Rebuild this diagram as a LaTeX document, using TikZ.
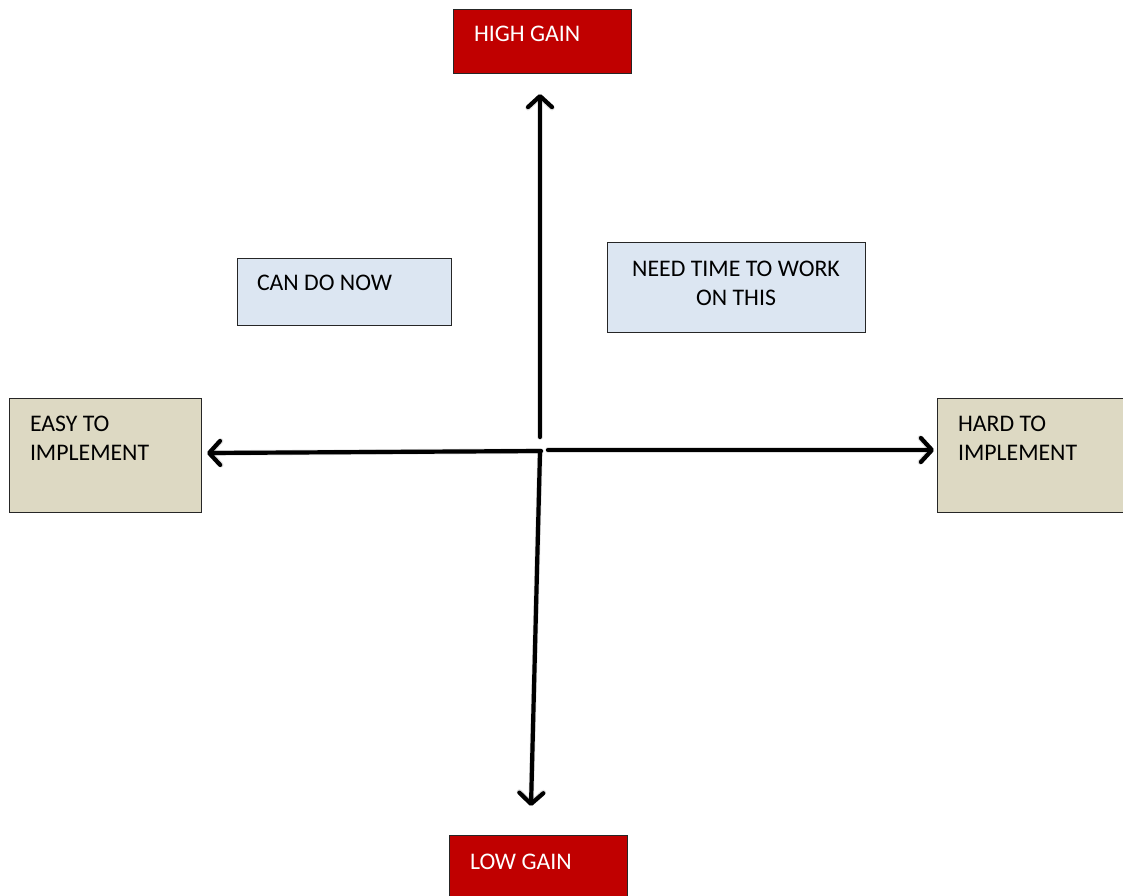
\documentclass[tikz,border=0pt]{standalone}
\usepackage{fontspec}
\setmainfont{Carlito}
\usetikzlibrary{arrows.meta}
\definecolor{boxred}{HTML}{C00000}
\definecolor{boxblue}{HTML}{DCE6F2}
\definecolor{boxtan}{HTML}{DDD9C3}
\newcommand\lbox[5]{\parbox[c][#2][t]{#1}{\vspace*{#4}\raggedright\leftskip=#3\relax #5\par}}
\newcommand\cbox[4]{\parbox[c][#2][t]{#1}{\vspace*{#3}\centering #4\par}}
\begin{document}
\begin{tikzpicture}[x=1pt,y=-1pt,
  every node/.style={font=\fontsize{23.8}{29}\selectfont},
  quad/.style={draw=black!85, line width=0.9pt, inner sep=0pt},
  redbox/.style={quad, fill=boxred, text=white},
  bluebox/.style={quad, fill=boxblue, text=black},
  tanbox/.style={quad, fill=boxtan, text=black},
  axis/.style={line width=4.2pt, line cap=round, line join=round,
    -{Straight Barb[length=11pt,width=24pt,line cap=round,line join=round]}},
  axisshadow/.style={axis, draw=black, opacity=0.12, line width=5.5pt}
]
\useasboundingbox (0,0) rectangle (1123,895);
\fill[white] (0,0) rectangle (1123,895);

\node[redbox]  (high) at (542,41)    {\lbox{178pt}{64pt}{21pt}{17pt}{HIGH GAIN}};
\node[redbox]  (low)  at (538,867)   {\lbox{178pt}{64pt}{21pt}{19pt}{LOW GAIN}};
\node[bluebox] (cando) at (344,291.5) {\lbox{214pt}{67pt}{20pt}{17pt}{CAN DO NOW}};
\node[bluebox] (need) at (736,287)   {\cbox{258pt}{90pt}{19pt}{NEED TIME TO WORK\\ON THIS}};
\node[tanbox]  (easy) at (105,455)   {\lbox{192pt}{114pt}{21pt}{18pt}{EASY TO\\IMPLEMENT}};
\node[tanbox]  (hard) at (1033.5,455) {\lbox{193pt}{114pt}{21pt}{18pt}{HARD TO\\IMPLEMENT}};

\coordinate (upS) at (540,437);
\coordinate (upE) at (540,94);
\coordinate (lfS) at (541,451);
\coordinate (lfE) at (207,453);
\coordinate (rtS) at (548,450);
\coordinate (rtE) at (934,450);
\coordinate (dnS) at (540,452);
\coordinate (dnE) at (531,806);

\begin{scope}[shift={(1.5,3)}]
\draw[axisshadow] (upS) -- (upE);
\draw[axisshadow] (lfS) -- (lfE);
\draw[axisshadow] (rtS) -- (rtE);
\draw[axisshadow] (dnS) -- (dnE);
\end{scope}
\draw[axis] (upS) -- (upE);
\draw[axis] (lfS) -- (lfE);
\draw[axis] (rtS) -- (rtE);
\draw[axis] (dnS) -- (dnE);
\end{tikzpicture}
\end{document}
